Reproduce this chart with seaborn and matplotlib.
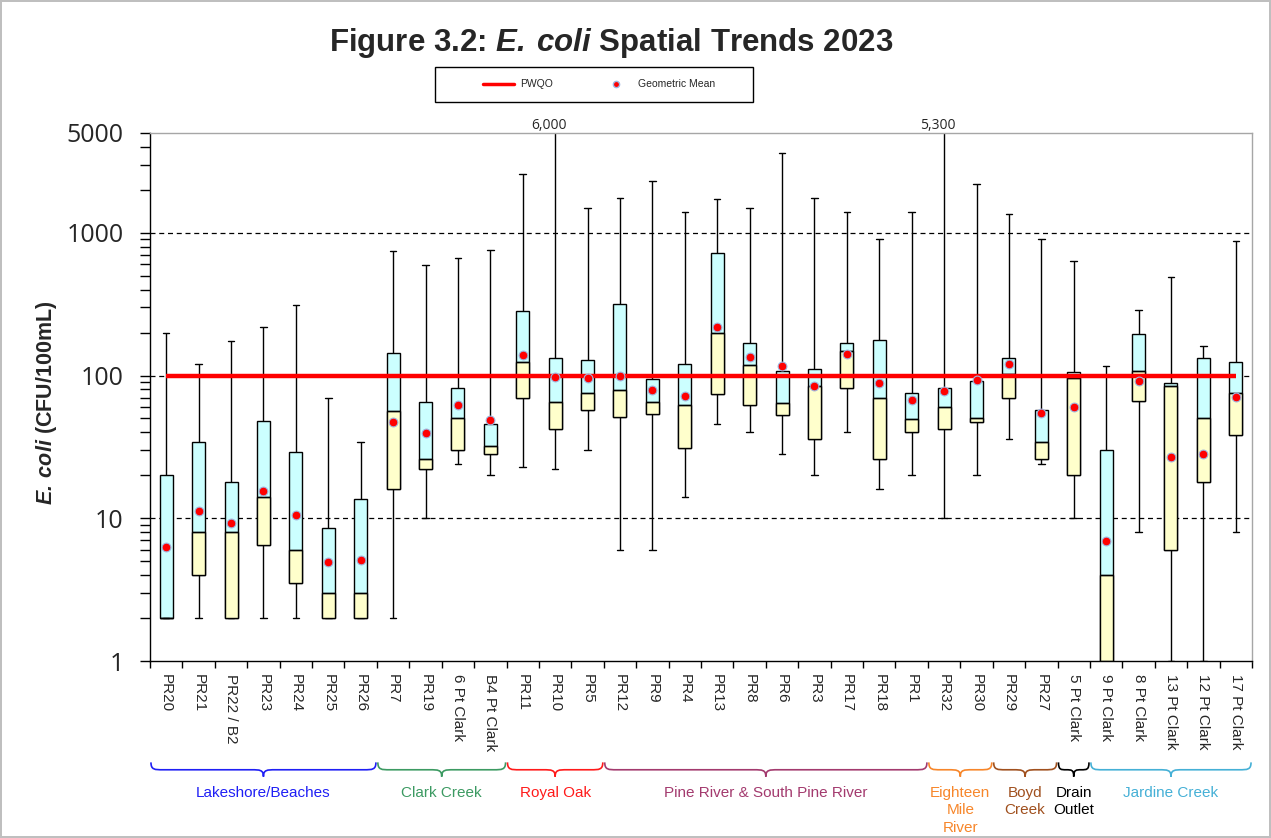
import numpy as np
import pandas as pd
import seaborn as sns
import matplotlib
matplotlib.use('Agg')
import matplotlib.pyplot as plt
from matplotlib.path import Path
from matplotlib.patches import PathPatch, Rectangle
from matplotlib.lines import Line2D
from matplotlib import ticker, transforms

# sampling sites, left to right
sites = ["PR20", "PR21", "PR22 / B2", "PR23", "PR24", "PR25", "PR26",
         "PR7", "PR19", "6 Pt Clark", "B4 Pt Clark",
         "PR11", "PR10", "PR5",
         "PR12", "PR9", "PR4", "PR13", "PR8", "PR6", "PR3", "PR17", "PR18", "PR1",
         "PR32", "PR30", "PR29", "PR27", "5 Pt Clark",
         "9 Pt Clark", "8 Pt Clark", "13 Pt Clark", "12 Pt Clark", "17 Pt Clark"]

# E. coli (CFU/100mL) summary per site
site_min = [2, 2, 2, 2, 2, 2, 2, 2, 10, 24, 20,
            23, 22, 30, 6, 6, 14, 46, 40, 28, 20, 40, 16, 20,
            10, 20, 36, 24, 10, 1, 8, 1, 1, 8]
site_q1 = [2, 4, 2, 6.5, 3.5, 2, 2, 16, 22, 30, 28,
           70, 42, 57, 51, 54, 31, 74, 62, 53, 36, 82, 26, 40,
           42, 47.5, 70, 26, 20, 1, 66, 6, 18, 38]
site_median = [2, 8, 8, 14, 6, 3, 3, 56, 26, 50, 32,
               125, 65, 76, 79, 65, 62, 198, 119, 64, 84, 149, 70, 49.5,
               60, 50.6, 102, 34, 96, 4, 108, 84, 50, 75]
site_q3 = [20, 34, 18, 48, 29, 8.6, 13.6, 143, 65, 82, 46,
           283, 132, 128, 317, 94, 120, 717, 170, 108, 111, 170, 176, 76,
           82, 92, 132, 57.5, 105, 30, 194, 88, 132, 125]
site_max = [200, 120, 175, 220, 310, 70, 34, 750, 590, 665, 760,
            2600, 6000, 1500, 1750, 2300, 1400, 1720, 1500, 3600, 1750, 1400, 900, 1400,
            5300, 2200, 1350, 900, 630, 116, 288, 490, 160, 870]
geo_mean = [6.3, 11.3, 9.3, 15.5, 10.5, 4.9, 5.1, 47, 39.5, 62, 49,
            140, 98, 96, 100, 79, 72, 218, 134, 117, 85, 142, 89, 67,
            78, 93, 120, 55, 60, 6.9, 92, 26.7, 28, 71]
PWQO = 100

groups = ["Lakeshore/Beaches", "Clark Creek", "Royal Oak", "Pine River & South Pine River",
          "Eighteen\nMile\nRiver", "Boyd\nCreek", "Drain\nOutlet", "Jardine Creek"]
group_sizes = [7, 4, 3, 10, 2, 2, 1, 5]
group_colors = ["#1F1FF5", "#3C9A62", "#FF1A1A", "#A33A6E",
                "#F7862A", "#A0501E", "#000000", "#45B0D6"]

y_max = 5000

sns.set_style("ticks")
plt.rcParams['font.family'] = ['Liberation Sans', 'DejaVu Sans']
plt.rcParams['mathtext.fontset'] = 'custom'
plt.rcParams['mathtext.rm'] = 'Liberation Sans'
plt.rcParams['mathtext.bfit'] = 'Liberation Sans:italic:bold'

stats = np.column_stack([site_min, site_q1, site_median, site_q3, site_max])
df = pd.DataFrame({"site": np.repeat(sites, 5), "cfu": stats.ravel()})
pos = np.arange(len(sites))

fig = plt.figure(figsize=(12.71, 8.38), dpi=100)
fig.patch.set_edgecolor('#BFBFBF')
fig.patch.set_linewidth(1.5)
ax = fig.add_axes([150/1271, 1-661/838, 1102/1271, 528/838])

sns.boxplot(data=df, x="site", y="cfu", order=sites, whis=(0, 100), width=0.4,
            color="#CCFFFF", saturation=1, linecolor="black", linewidth=1,
            showfliers=False, log_scale=True, ax=ax)

# lower half of each box (Q1 -> median) in pale yellow
ax.bar(pos, np.array(site_median) - np.array(site_q1), bottom=site_q1, width=0.4,
       color="#FFFFCC", edgecolor="black", linewidth=1, zorder=2.05)

for gv in [10, 100, 1000]:
    ax.axhline(gv, color='black', lw=0.9, ls=(0, (4, 3)), zorder=1)

ax.plot([pos[0], pos[-1]], [PWQO, PWQO], color='red', lw=3.2, zorder=3,
        solid_capstyle='butt')
sns.scatterplot(x=pos, y=geo_mean, ax=ax, color='red', edgecolor='#9FB6E0',
                s=40, linewidth=0.8, zorder=4, legend=False)

# y axis
ax.set_ylim(1, y_max)
ax.yaxis.set_major_locator(ticker.FixedLocator([1, 10, 100, 1000, 5000]))
ax.yaxis.set_major_formatter(ticker.FuncFormatter(lambda v, p: f"{v:g}"))
ax.yaxis.set_minor_locator(ticker.LogLocator(base=10, subs=np.arange(2, 10), numticks=30))
ax.yaxis.set_minor_formatter(ticker.NullFormatter())
ax.tick_params(axis='y', which='both', direction='out', length=7, width=1,
               labelsize=18, pad=12, color='black')
for lab in ax.get_yticklabels():
    lab.set_family('Open Sans')
ax.set_ylabel(r"$\mathbfit{E.\,coli}$ (CFU/100mL)", fontsize=15.5, fontweight='bold')
ax.yaxis.set_label_coords(-0.0826, 0.49)

# x axis
ax.set_xlim(-0.5, len(sites) - 0.5)
ax.set_xticks(pos)
ax.set_xticklabels(sites, rotation=-90, fontsize=11)
ax.set_xticks(np.arange(len(sites) + 1) - 0.5, minor=True)
ax.tick_params(axis='x', which='major', length=0, pad=9)
ax.tick_params(axis='x', which='minor', length=5, width=1, direction='out', color='black')
ax.set_xlabel('')

for s in ['top', 'right']:
    ax.spines[s].set_color('#A6A6A6')
for s in ['left', 'bottom']:
    ax.spines[s].set_color('black')
for s in ax.spines.values():
    s.set_linewidth(1)

tr = transforms.blended_transform_factory(ax.transData, ax.transAxes)

# values running off the top of the chart
for i, v in enumerate(site_max):
    if v > y_max:
        ax.text(i - 0.2, 1.0, f"{v:,}", transform=tr, ha='center', va='bottom',
                fontsize=10, family='Open Sans', color='#262626')


def brace(x0, x1, color):
    y_top, y_mid, y_tip = -0.192, -0.206, -0.219
    xc = (x0 + x1) / 2
    r = min(0.37, (x1 - x0) / 4)
    verts = [(x0, y_top),
             (x0, y_mid), (x0 + 0.3*r, y_mid), (x0 + r, y_mid),
             (xc - r, y_mid),
             (xc - 0.3*r, y_mid), (xc, y_mid), (xc, y_tip),
             (xc, y_mid), (xc + 0.3*r, y_mid), (xc + r, y_mid),
             (x1 - r, y_mid),
             (x1 - 0.3*r, y_mid), (x1, y_mid), (x1, y_top)]
    codes = ([Path.MOVETO] + [Path.CURVE4]*3 + [Path.LINETO] + [Path.CURVE4]*6
             + [Path.LINETO] + [Path.CURVE4]*3)
    ax.add_patch(PathPatch(Path(verts, codes), fill=False, edgecolor=color, lw=1.2,
                           transform=tr, clip_on=False))


start = 0
for name, n, col in zip(groups, group_sizes, group_colors):
    x0, x1 = start - 0.5 + 0.03, start + n - 0.5 - 0.03
    brace(x0, x1, col)
    ax.text((x0 + x1) / 2, -0.236, name, transform=tr, ha='center', va='top',
            color=col, fontsize=11, linespacing=1.32, clip_on=False)
    start += n

# title and legend
fig.text(0.4807, 0.949, r"Figure 3.2: $\mathbfit{E.\,coli}$ Spatial Trends 2023",
         ha='center', va='center', fontsize=22.5, fontweight='bold')

handles = [Line2D([], [], color='red', lw=2.5),
           Line2D([], [], marker='o', ls='none', markerfacecolor='red',
                  markeredgecolor='#9FB6E0', markersize=4.5)]
fig.legend(handles, ['PWQO', 'Geometric Mean'], loc='center',
           bbox_to_anchor=(0.4713, 0.8992), ncol=2, frameon=False, fontsize=7.5,
           handlelength=3, handletextpad=0.6, columnspacing=4.5)
fig.add_artist(Rectangle((435/1271, 1-102/838), 318/1271, 35/838,
                         transform=fig.transFigure, fill=False, edgecolor='black', lw=1))

fig.savefig('out.png', dpi=100, edgecolor=fig.get_edgecolor())
